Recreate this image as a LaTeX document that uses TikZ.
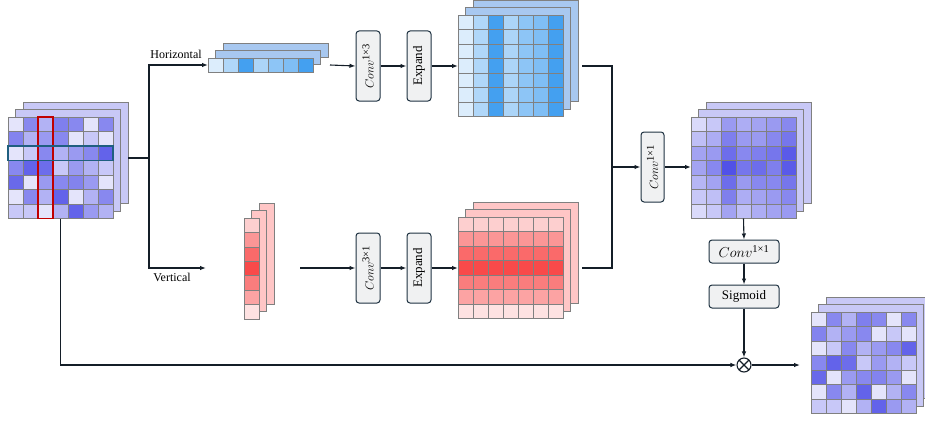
\documentclass[tikz,border=0pt]{standalone}
\usepackage{fontspec}
\setmainfont{Liberation Serif}
\usetikzlibrary{arrows.meta}
\definecolor{vb}{RGB}{72,72,230}
\definecolor{bb}{RGB}{58,155,239}
\definecolor{rb}{RGB}{248,64,64}
\definecolor{gridline}{RGB}{128,128,128}
\definecolor{linec}{RGB}{20,30,40}
\definecolor{boxborder}{RGB}{30,50,65}
\definecolor{boxfill}{RGB}{240,241,242}
\definecolor{vback}{RGB}{200,200,246}
\definecolor{bback}{RGB}{168,200,240}
\definecolor{rback}{RGB}{255,198,198}
\definecolor{selred}{RGB}{192,0,0}
\definecolor{selblue}{RGB}{31,95,128}
\tikzset{
  cellst/.style={draw=gridline, line width=0.7pt},
  gridnode/.style={inner sep=0pt, outer sep=0pt, draw=none},
  opbox/.style={draw=boxborder, fill=boxfill, rounded corners=3pt, line width=1pt, inner sep=0pt},
  vbox/.style={opbox, rotate=90, minimum width=70pt, minimum height=24pt},
  hbox/.style={opbox, minimum width=70pt, minimum height=23pt},
  conn/.style={draw=linec, line width=1.1pt},
  arr/.style={conn, -{Latex[length=6pt,width=4.5pt]}},
  lbl/.style={font=\fontsize{12}{14}\selectfont, inner sep=1pt}
}
\newcommand\convtext[1]{$Conv^{\mbox{\fontsize{10.5}{11}\selectfont #1}}$}
\newcommand\drawgrid[6]{%
  \foreach \rowlist [count=\ri from 0] in {#6} {
    \foreach \pp [count=\ci from 0] in \rowlist {
      \filldraw[cellst, fill=#5!\pp!white] ({#1+\ci*#3},{#2+\ri*#4}) rectangle ++(#3,#4);
    }
  }
}
\newcommand\backlayers[5]{%
  \filldraw[cellst, fill=#5] ({#1+15},{#2-15}) rectangle ++(#3,#4);
  \filldraw[cellst, fill=#5] ({#1+7.5},{#2-7.5}) rectangle ++(#3,#4);
}
\begin{document}
\begin{tikzpicture}[x=1pt, y=-1pt]
\useasboundingbox (0,0) rectangle (925,420);

% ---------- input grid ----------
\backlayers{8}{117}{105}{101.5}{vback}
\drawgrid{8}{117}{15}{14.5}{vb}{{15,65,42,70,65,15,65},{68,42,55,65,15,30,15},{15,30,65,42,55,65,85},{65,85,80,30,55,42,30},{82,15,55,65,68,55,15},{15,65,42,85,15,42,65},{30,30,15,42,85,55,42}}
\draw[selred, line width=1.8pt] (38,117) rectangle (53,218.5);
\draw[selblue, line width=1.8pt] (8,146) rectangle (113,160.5);
\node[gridnode, minimum width=105pt, minimum height=101.5pt] (ingrid) at (60.5,167.75) {};
\coordinate (inright) at (128,158);
\coordinate (split) at (149,158);

% ---------- horizontal strip ----------
\backlayers{208}{58}{105}{14}{bback}
\drawgrid{208}{58}{15}{14}{bb}{{18,40,95,42,58,65,95}}
\node[gridnode, minimum width=105pt, minimum height=14pt] (hstrip) at (260.5,65) {};
\coordinate (hstripout) at (330,65);

% ---------- vertical strip ----------
\backlayers{244}{218}{15}{101}{rback}
\drawgrid{244}{218}{15}{14.43}{rb}{{25},{55},{78},{95},{68},{48},{15}}
\coordinate (vend) at (206,268);
\coordinate (vstripout) at (300,268);

% ---------- top expanded grid ----------
\backlayers{458}{15}{105}{101.5}{bback}
\drawgrid{458}{15}{15}{14.5}{bb}{{18,40,95,42,58,65,95},{18,40,95,42,58,65,95},{18,40,95,42,58,65,95},{18,40,95,42,58,65,95},{18,40,95,42,58,65,95},{18,40,95,42,58,65,95},{18,40,95,42,58,65,95}}
\node[gridnode, minimum width=105pt, minimum height=101.5pt] (hgrid) at (510.5,65.75) {};
\coordinate (hgridout) at (582,66);

% ---------- bottom expanded grid ----------
\backlayers{458}{217}{105}{101.5}{rback}
\drawgrid{458}{217}{15}{14.5}{rb}{{25,25,25,25,25,25,25},{55,55,55,55,55,55,55},{78,78,78,78,78,78,78},{95,95,95,95,95,95,95},{68,68,68,68,68,68,68},{48,48,48,48,48,48,48},{15,15,15,15,15,15,15}}
\node[gridnode, minimum width=105pt, minimum height=101.5pt] (vgrid) at (510.5,267.75) {};
\coordinate (vgridout) at (582,268);

% ---------- merged grid ----------
\backlayers{691}{117}{105}{101.5}{vback}
\drawgrid{691}{117}{15}{14.5}{vb}{{20,30,55,45,50,55,65},{35,45,70,55,55,65,75},{50,55,80,65,70,75,90},{50,65,95,75,80,70,90},{40,50,80,55,65,65,75},{30,35,70,45,50,55,65},{20,30,50,35,45,50,55}}
\node[gridnode, minimum width=105pt, minimum height=101.5pt] (mgrid) at (743.5,167.75) {};

% ---------- output grid ----------
\backlayers{811}{312}{105}{101.5}{vback}
\drawgrid{811}{312}{15}{14.5}{vb}{{15,65,42,70,65,15,65},{68,42,55,65,15,30,15},{15,30,65,42,55,65,85},{65,85,80,30,55,42,30},{82,15,55,65,68,55,15},{15,65,42,85,15,42,65},{30,30,15,42,85,55,42}}
\node[gridnode, minimum width=105pt, minimum height=101.5pt] (ogrid) at (863.5,362.75) {};
\coordinate (outend) at (800,365);

% ---------- operation boxes ----------
\node[vbox] (conva) at (368,66) {\fontsize{13}{15}\selectfont \convtext{1×3}};
\node[vbox] (expa) at (419,66) {\fontsize{13}{15}\selectfont Expand};
\node[vbox] (convb) at (368,268) {\fontsize{13}{15}\selectfont \convtext{3×1}};
\node[vbox] (expb) at (419,268) {\fontsize{13}{15}\selectfont Expand};
\node[vbox, minimum height=23pt] (convc) at (652.5,167) {\fontsize{13}{15}\selectfont \convtext{1×1}};
\node[hbox] (convd) at (744,251.5) {\fontsize{14}{16}\selectfont \convtext{1×1}};
\node[hbox] (sig) at (744,296.5) {\fontsize{13}{15}\selectfont Sigmoid};
\node[circle, draw=linec, line width=1.1pt, minimum size=14pt, inner sep=0pt,
  path picture={\draw[linec, line width=1.1pt] (path picture bounding box.north west) -- (path picture bounding box.south east) (path picture bounding box.north east) -- (path picture bounding box.south west);}] (mult) at (744,365) {};

% ---------- labels ----------
\node[lbl] (hlabel) at (176,54) {Horizontal};
\node[lbl] (vlabel) at (172,277) {Vertical};

% ---------- connectors ----------
\draw[conn] (inright) -- (split);
\draw[arr] (split) |- (hstrip.west);
\draw[arr] (split) |- (vend);
\draw[arr] (hstripout) -- (conva.north);
\draw[arr] (conva.south) -- (expa.north);
\draw[arr] (expa.south) -- (hgrid.west |- expa.south);
\draw[arr] (vstripout) -- (convb.north);
\draw[arr] (convb.south) -- (expb.north);
\draw[arr] (expb.south) -- (vgrid.west |- expb.south);
\coordinate (mtop) at (612,66);
\coordinate (mbot) at (612,268);
\coordinate (mmid) at (612,167);
\draw[conn] (hgridout) -- (mtop) -- (mbot) -- (vgridout);
\draw[arr] (mmid) -- (convc.north);
\draw[arr] (convc.south) -- (mgrid.west |- convc.south);
\draw[arr] (mgrid.south) -- (convd.north);
\draw[arr] (convd.south) -- (sig.north);
\draw[arr] (sig.south) -- (mult.north);
\draw[arr] (ingrid.south) |- (mult.west);
\draw[arr] (mult.east) -- (outend);
\end{tikzpicture}
\end{document}
